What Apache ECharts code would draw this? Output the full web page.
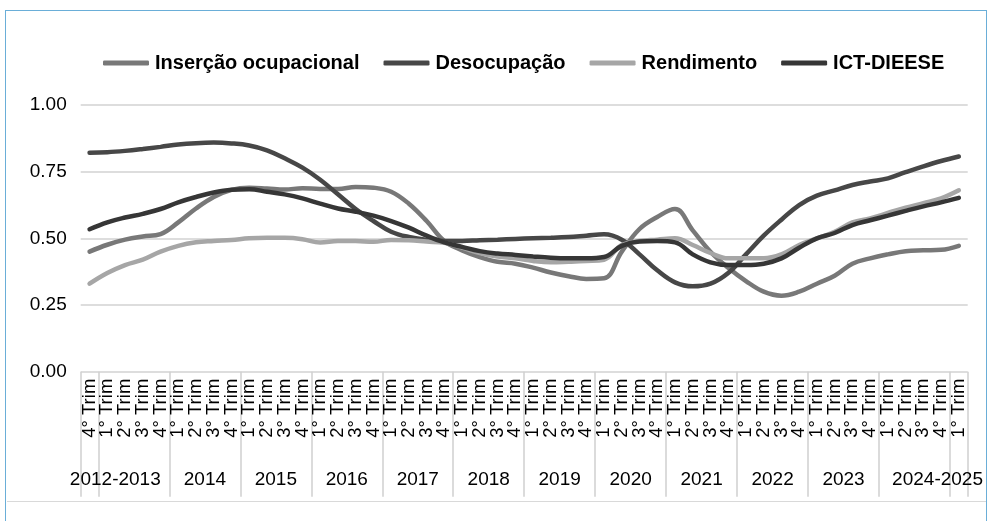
<!DOCTYPE html>
<html>
<head>
<meta charset="utf-8">
<script src="https://cdn.jsdelivr.net/npm/echarts@6/dist/echarts.min.js"></script>
<style>
  html, body { margin: 0; padding: 0; background: #fff; }
  #wrap { position: relative; width: 991px; height: 521px; overflow: hidden; }
  #chart { position: absolute; left: 0; top: 0; width: 991px; height: 521px; }
  /* moldura azul e linha cinza de baixo */
  #frame { position: absolute; left: 5px; top: 10px; width: 980px; height: 520px;
           border: 1.5px solid #6aaed8; border-bottom: none; pointer-events: none; }
  #rule { position: absolute; left: 7px; top: 501px; width: 979px; height: 0;
          border-top: 1.5px solid #d9d9d9; pointer-events: none; }
</style>
</head>
<body>
<div id="wrap">
  <div id="chart"></div>
  <div id="frame"></div>
  <div id="rule"></div>
</div>
<script>
// trimestres: 4º 2012 ... 1º 2025
const trimestres = ['4° Trim',
  '1° Trim', '2° Trim', '3° Trim', '4° Trim',
  '1° Trim', '2° Trim', '3° Trim', '4° Trim',
  '1° Trim', '2° Trim', '3° Trim', '4° Trim',
  '1° Trim', '2° Trim', '3° Trim', '4° Trim',
  '1° Trim', '2° Trim', '3° Trim', '4° Trim',
  '1° Trim', '2° Trim', '3° Trim', '4° Trim',
  '1° Trim', '2° Trim', '3° Trim', '4° Trim',
  '1° Trim', '2° Trim', '3° Trim', '4° Trim',
  '1° Trim', '2° Trim', '3° Trim', '4° Trim',
  '1° Trim', '2° Trim', '3° Trim', '4° Trim',
  '1° Trim', '2° Trim', '3° Trim', '4° Trim',
  '1° Trim', '2° Trim', '3° Trim', '4° Trim',
  '1° Trim']

// rótulos dos anos (segundo nível do eixo)
const anos = ['2012-2013', '2014', '2015', '2016', '2017', '2018', '2019',
  '2020', '2021', '2022', '2023', '2024-2025']
const anosPos = [1.95, 7, 11, 15, 19, 23, 27, 31, 35, 39, 43, 48.3]
const anosLimites = [0, 1, 5, 9, 13, 17, 21, 25, 29, 33, 37, 41, 45, 49, 50]

const insercao = [0.45,
  0.476, 0.495, 0.507, 0.516,
  0.56, 0.612, 0.655, 0.682,
  0.69, 0.687, 0.683, 0.688,
  0.685, 0.685, 0.693, 0.69,
  0.675, 0.63, 0.565, 0.49,
  0.455, 0.43, 0.412, 0.405,
  0.39, 0.372, 0.358, 0.348,
  0.35, 0.45, 0.535, 0.58,
  0.61, 0.53, 0.45, 0.39,
  0.34, 0.30, 0.285, 0.30,
  0.33, 0.36, 0.405, 0.425,
  0.44, 0.452, 0.455, 0.457,
  0.472]

const desocupacao = [0.821,
  0.823, 0.828, 0.835, 0.843,
  0.852, 0.857, 0.859, 0.856,
  0.848, 0.83, 0.80, 0.765,
  0.72, 0.665, 0.61, 0.565,
  0.525, 0.505, 0.495, 0.49,
  0.49, 0.493, 0.495, 0.498,
  0.50, 0.502, 0.505, 0.51,
  0.515, 0.495, 0.44, 0.38,
  0.335, 0.32, 0.33, 0.37,
  0.44, 0.51, 0.57, 0.625,
  0.66, 0.68, 0.70, 0.713,
  0.725, 0.748, 0.77, 0.79,
  0.807]

const rendimento = [0.33,
  0.37, 0.40, 0.42, 0.45,
  0.472, 0.485, 0.49, 0.494,
  0.50, 0.502, 0.502, 0.497,
  0.484, 0.49, 0.49, 0.487,
  0.494, 0.493, 0.488, 0.483,
  0.465, 0.445, 0.432, 0.425,
  0.415, 0.41, 0.412, 0.415,
  0.42, 0.475, 0.49, 0.495,
  0.50, 0.475, 0.445, 0.425,
  0.425, 0.425, 0.44, 0.475,
  0.50, 0.525, 0.56, 0.575,
  0.595, 0.615, 0.632, 0.65,
  0.68]

const ict = [0.534,
  0.56, 0.578, 0.592, 0.61,
  0.635, 0.655, 0.672, 0.682,
  0.684, 0.675, 0.665, 0.65,
  0.63, 0.612, 0.60, 0.585,
  0.565, 0.54, 0.51, 0.485,
  0.468, 0.452, 0.443, 0.438,
  0.432, 0.427, 0.425, 0.425,
  0.43, 0.472, 0.488, 0.49,
  0.485, 0.44, 0.41, 0.40,
  0.40, 0.405, 0.425, 0.465,
  0.50, 0.52, 0.55, 0.568,
  0.585, 0.603, 0.62, 0.635,
  0.652]

const fonte = '"Liberation Sans", Arial, Helvetica, sans-serif'

function linha(nome, dados, cor) {
  return {
    name: nome,
    type: 'line',
    data: dados,
    smooth: 0.4,
    symbol: 'none',
    color: cor,
    lineStyle: { width: 4.5, color: cor, cap: 'round' }
  }
}

const myChart = echarts.init(document.getElementById('chart'), null, { renderer: 'canvas' })

const option = {
  animation: false,
  backgroundColor: '#fff',
  textStyle: { fontFamily: fonte },
  legend: {
    left: 98,
    top: 48,
    icon: 'roundRect',
    itemWidth: 46,
    itemHeight: 5,
    itemGap: 24,
    textStyle: { fontSize: 20, fontWeight: 'bold', color: '#000', fontFamily: fonte, padding: [0, 0, 0, 1] },
    data: ['Inserção ocupacional', 'Desocupação', 'Rendimento', 'ICT-DIEESE']
  },
  grid: { left: 80.7, right: 23.3, top: 105, bottom: 149.3 },
  xAxis: [
    {
      type: 'category',
      data: trimestres,
      boundaryGap: true,
      axisLine: { show: false },
      axisTick: { show: false },
      axisLabel: {
        interval: 0,
        rotate: 90,
        margin: 7,
        fontSize: 18.5,
        color: '#000',
        fontFamily: fonte
      }
    },
    {
      // segundo nível: anos
      type: 'value',
      position: 'bottom',
      min: 0,
      max: 50,
      splitLine: { show: false },
      axisLine: { show: false },
      axisTick: {
        show: true,
        customValues: anosLimites,
        length: 125,
        lineStyle: { color: '#d0d0d0', width: 1.5 }
      },
      axisLabel: {
        customValues: anosPos,
        margin: 99,
        fontSize: 19,
        color: '#000',
        fontFamily: fonte,
        formatter: function (v) {
          const i = anosPos.indexOf(v)
          return i >= 0 ? anos[i] : ''
        }
      }
    }
  ],
  yAxis: {
    type: 'value',
    min: 0,
    max: 1,
    interval: 0.25,
    axisLine: { show: false },
    axisTick: { show: false },
    axisLabel: {
      margin: 14,
      fontSize: 19,
      color: '#000',
      fontFamily: fonte,
      formatter: function (v) { return v.toFixed(2) }
    },
    splitLine: { lineStyle: { color: '#d2d2d2', width: 1.5 } }
  },
  series: [
    linha('Inserção ocupacional', insercao, '#787878'),
    linha('Desocupação', desocupacao, '#474747'),
    linha('Rendimento', rendimento, '#a6a6a6'),
    linha('ICT-DIEESE', ict, '#363636')
  ]
}

myChart.setOption(option)
window.addEventListener('resize', function () {
  myChart.resize()
})
</script>
</body>
</html>
